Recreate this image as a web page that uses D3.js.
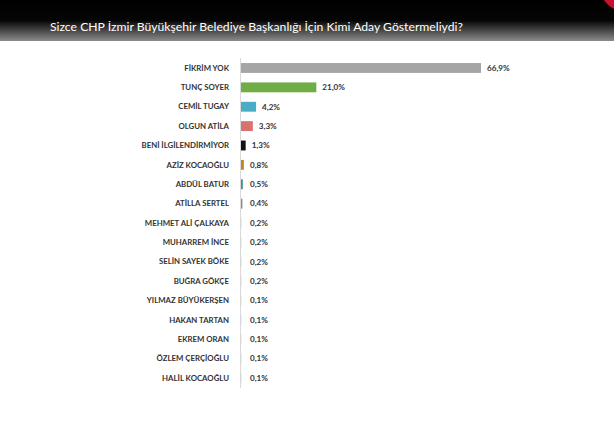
<!DOCTYPE html>
<html>
<head>
<meta charset="utf-8">
<script src="https://cdn.jsdelivr.net/npm/d3@7"></script>
<style>
  body { margin: 0; background: #fff; }
  svg { display: block; }
  .name { font-family: Lato, "Open Sans", sans-serif; font-weight: bold; font-size: 7.8px; fill: #333; }
  .val { font-family: Lato, "Open Sans", sans-serif; font-weight: bold; font-size: 8.1px; fill: #333; }
  .title { font-family: Lato, "Open Sans", sans-serif; font-size: 12.2px; fill: #fff; }
</style>
</head>
<body>
<div id="chart"></div>
<script>
// chart data
var names = ["FİKRİM YOK", "TUNÇ SOYER", "CEMİL TUGAY", "OLGUN ATİLA", "BENİ İLGİLENDİRMİYOR",
  "AZİZ KOCAOĞLU", "ABDÜL BATUR", "ATİLLA SERTEL", "MEHMET ALİ ÇALKAYA", "MUHARREM İNCE",
  "SELİN SAYEK BÖKE", "BUĞRA GÖKÇE", "YILMAZ BÜYÜKERŞEN", "HAKAN TARTAN", "EKREM ORAN",
  "ÖZLEM ÇERÇİOĞLU", "HALİL KOCAOĞLU"];
var values = [66.9, 21.0, 4.2, 3.3, 1.3, 0.8, 0.5, 0.4, 0.2, 0.2, 0.2, 0.2, 0.1, 0.1, 0.1, 0.1, 0.1];
var valueLabels = ["66,9%", "21,0%", "4,2%", "3,3%", "1,3%", "0,8%", "0,5%", "0,4%", "0,2%", "0,2%",
  "0,2%", "0,2%", "0,1%", "0,1%", "0,1%", "0,1%", "0,1%"];
var barColors = ["#a5a5a5", "#70ad47", "#4bacc6", "#d9716f", "#111111", "#c0852f", "#3a8f9e",
  "#8c8c8c", "#e6e6e6", "#e6e6e6", "#e6e6e6", "#e6e6e6", "#e6e6e6", "#e6e6e6", "#e6e6e6", "#e6e6e6", "#e6e6e6"];
var title = "Sizce CHP İzmir Büyükşehir Belediye Başkanlığı İçin Kimi Aday Göstermeliydi?";

var width = 614;
var height = 424;

var svg = d3.select("#chart")
  .append("svg")
  .attr("width", width)
  .attr("height", height);

// header band
var defs = svg.append("defs");
var grad = defs.append("linearGradient")
  .attr("id", "hdr")
  .attr("x1", 0).attr("y1", 0).attr("x2", 0).attr("y2", 1);
grad.append("stop").attr("offset", "0").attr("stop-color", "#000");
grad.append("stop").attr("offset", "0.5").attr("stop-color", "#050505");
grad.append("stop").attr("offset", "1").attr("stop-color", "#8c8c8c");

svg.append("rect")
  .attr("x", 0).attr("y", 0)
  .attr("width", width).attr("height", 41)
  .attr("fill", "url(#hdr)");

// red corner
svg.append("path")
  .attr("d", "M604,0 L614,0 L614,9 Q607,5 604,0 Z")
  .attr("fill", "#c8102e");

svg.append("text")
  .attr("class", "title")
  .attr("x", 50)
  .attr("y", 31)
  .text(title);

var xScale = d3.scaleLinear()
  .domain([0, 66.9])
  .range([241, 481]);

var yScale = d3.scaleBand()
  .domain(names)
  .range([58.3, 387.7])
  .paddingInner(0.49)
  .paddingOuter(0.245);

// vertical axis line
svg.append("line")
  .attr("x1", 240.5).attr("x2", 240.5)
  .attr("y1", 58).attr("y2", 388)
  .attr("stroke", "#d9d9d9")
  .attr("stroke-width", 1);

svg.selectAll(".bar")
  .data(values)
  .enter()
  .append("rect")
  .attr("class", "bar")
  .attr("x", xScale(0))
  .attr("y", function(d, i) { return yScale(names[i]); })
  .attr("width", function(d) { return Math.max(xScale(d) - xScale(0), 0.8); })
  .attr("height", yScale.bandwidth())
  .attr("fill", function(d, i) { return barColors[i]; });

// category labels
svg.selectAll(".name")
  .data(names)
  .enter()
  .append("text")
  .attr("class", "name")
  .attr("x", 229)
  .attr("y", function(d) { return yScale(d) + yScale.bandwidth() / 2; })
  .attr("dy", "0.35em")
  .attr("text-anchor", "end")
  .text(function(d) { return d; });

// value labels
svg.selectAll(".val")
  .data(values)
  .enter()
  .append("text")
  .attr("class", "val")
  .attr("x", function(d) { return Math.max(xScale(d), 244) + 6; })
  .attr("y", function(d, i) { return yScale(names[i]) + yScale.bandwidth() / 2; })
  .attr("dy", "0.35em")
  .text(function(d, i) { return valueLabels[i]; });
</script>
</body>
</html>
